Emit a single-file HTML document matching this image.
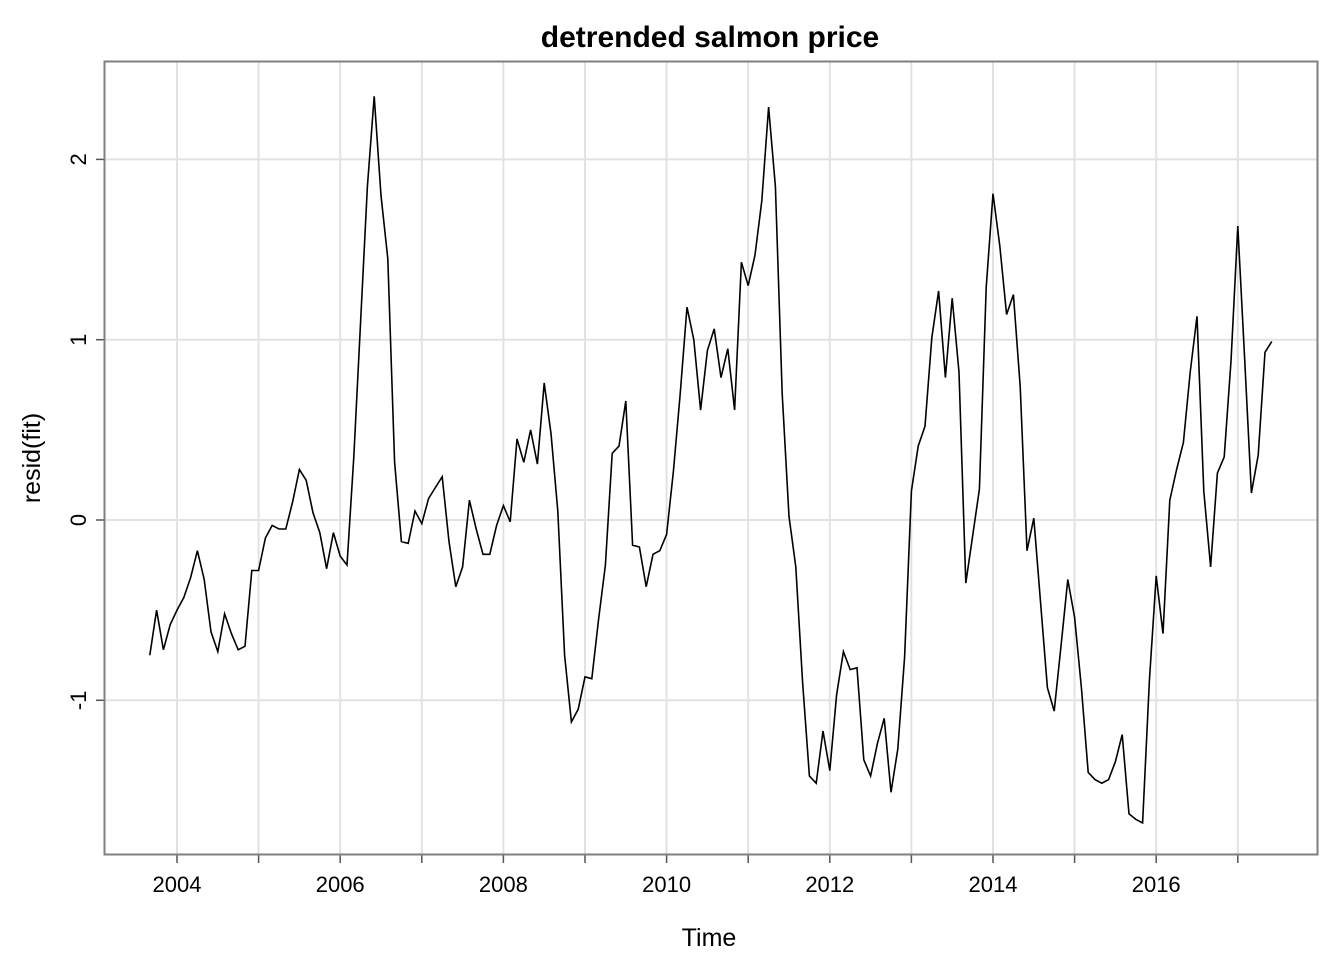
<!DOCTYPE html>
<html><head><meta charset="utf-8"><style>
body{margin:0;background:#fff}
svg text{font-family:"Liberation Sans",Arial,sans-serif}
</style></head><body>
<svg id="chart" width="1344" height="960" viewBox="0 0 1344 960">
<text x="710" y="47" text-anchor="middle" font-size="30" font-weight="bold">detrended salmon price</text>
<text x="709" y="946" text-anchor="middle" font-size="25">Time</text>
<text transform="translate(40,458) rotate(-90)" text-anchor="middle" font-size="25">resid(fit)</text>
<g id="grid"></g><g id="axes"></g><g id="series"></g>
<rect x="104.5" y="61.5" width="1213" height="793" fill="none" stroke="#7f7f7f" stroke-width="2"/>
</svg>
<script>
const startYear = 2003 + 8/12;
const residValues = [-0.75,-0.5,-0.72,-0.58,-0.5,-0.43,-0.32,-0.17,-0.33,-0.62,-0.73,-0.52,-0.63,-0.72,-0.70,-0.28,-0.28,-0.10,-0.03,-0.05,-0.05,0.10,0.28,0.22,0.04,-0.07,-0.27,-0.07,-0.20,-0.25,0.35,1.10,1.85,2.35,1.80,1.45,0.32,-0.12,-0.13,0.05,-0.02,0.12,0.18,0.24,-0.12,-0.37,-0.26,0.11,-0.05,-0.19,-0.19,-0.03,0.08,-0.01,0.45,0.32,0.50,0.31,0.76,0.48,0.05,-0.75,-1.12,-1.05,-0.87,-0.88,-0.55,-0.25,0.37,0.41,0.66,-0.14,-0.15,-0.37,-0.19,-0.17,-0.08,0.27,0.70,1.18,1.00,0.61,0.94,1.06,0.79,0.95,0.61,1.43,1.30,1.47,1.77,2.29,1.85,0.70,0.02,-0.26,-0.90,-1.42,-1.46,-1.17,-1.39,-0.97,-0.73,-0.83,-0.82,-1.33,-1.42,-1.24,-1.10,-1.51,-1.27,-0.76,0.16,0.41,0.52,1.01,1.27,0.79,1.23,0.82,-0.35,-0.09,0.17,1.29,1.81,1.52,1.14,1.25,0.74,-0.17,0.01,-0.46,-0.93,-1.06,-0.70,-0.33,-0.54,-0.93,-1.40,-1.44,-1.46,-1.44,-1.34,-1.19,-1.63,-1.66,-1.68,-0.89,-0.31,-0.63,0.11,0.28,0.43,0.82,1.13,0.16,-0.26,0.26,0.35,0.88,1.63,0.90,0.15,0.36,0.93,0.99];
const xTickYears = [2004,2006,2008,2010,2012,2014,2016];
const xMinorYears = [2005,2007,2009,2011,2013,2015,2017];
const yTicks = [-1,0,1,2];

const xs = t => 177 + (t - 2004) * 81.6;
const ys = v => 520 - v * 180.3;
const NS = 'http://www.w3.org/2000/svg';
function mk(tag, attrs, parent){const e=document.createElementNS(NS,tag);for(const k in attrs)e.setAttribute(k,attrs[k]);document.getElementById(parent).appendChild(e);return e;}

const allYears = xTickYears.concat(xMinorYears).sort((a,b)=>a-b);
allYears.forEach(y=>{
  const x = xs(y);
  if (x < 1318) {
    const g = mk('line',{x1:x,x2:x,y1:62,y2:854,stroke:'#e2e2e2','stroke-width':2},'grid');
    
    
  }
  const t = mk('line',{x1:x,x2:x,y1:855,y2:863,stroke:'#555','stroke-width':1.5},'axes');
  
  
});
xTickYears.forEach(y=>{
  const l = mk('text',{x:xs(y),y:892,'text-anchor':'middle','font-size':22},'axes');
  l.textContent = y;
  
  
});
yTicks.forEach(v=>{
  const y = ys(v);
  const g = mk('line',{x1:105,x2:1317,y1:y,y2:y,stroke:'#e2e2e2','stroke-width':2},'grid');
  
  
  const t = mk('line',{x1:96,x2:104,y1:y,y2:y,stroke:'#555','stroke-width':1.5},'axes');
  
  
  const l = mk('text',{transform:`translate(86,${y}) rotate(-90)`,'text-anchor':'middle','font-size':22},'axes');
  l.textContent = v;
  
  
});
const pts = residValues.map((v,i)=>xs(startYear + i/12).toFixed(1)+','+ys(v).toFixed(1)).join(' ');
const line = mk('polyline',{points:pts,fill:'none',stroke:'#000','stroke-width':1.6,'stroke-linejoin':'miter'},'series');


</script>
</body></html>
